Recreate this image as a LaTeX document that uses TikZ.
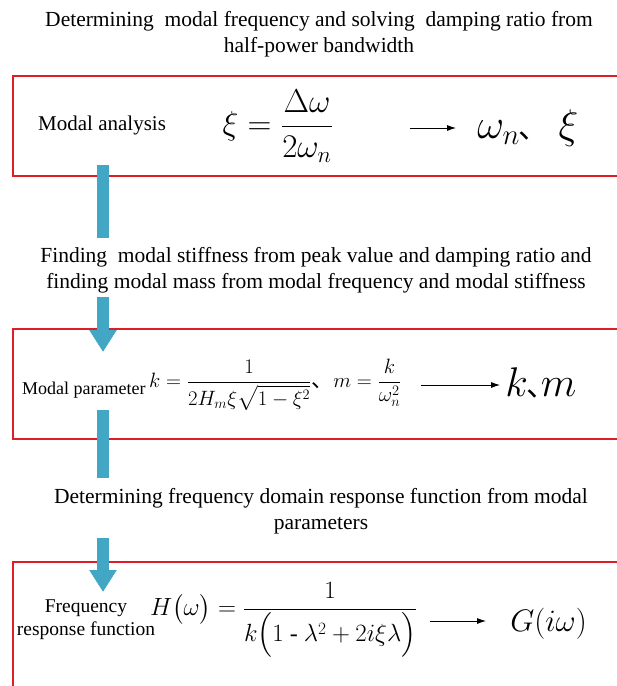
\documentclass[tikz,border=0pt]{standalone}
\usepackage{amsmath}
\usepackage{fontspec}
\setmainfont{Liberation Serif}
\newfontfamily\cjkf{Noto Sans CJK SC}
\usetikzlibrary{arrows.meta}
\definecolor{boxred}{RGB}{222,30,38}
\definecolor{flowteal}{RGB}{66,167,196}
\newcommand{\dunhao}[1]{{\cjkf\fontsize{#1}{#1}\selectfont 、}}
\tikzset{
 redbox/.style={draw=boxred, line width=1.8pt, inner sep=0pt, anchor=north west},
 flowbar/.style={draw=flowteal, line width=12pt},
 flowarrow/.style={draw=flowteal, line width=12pt, -{Triangle[width=26pt,length=22pt]}},
 titletext/.style={font=\fontsize{21.5}{26}\selectfont, align=center, inner sep=0pt},
 outarrow/.style={-{Latex[length=9pt,width=6pt]}, line width=0.8pt},
}
\begin{document}
\begin{tikzpicture}[x=1pt,y=-1pt]
\useasboundingbox (0,0) rectangle (617,686);
\fill[white] (0,0) rectangle (617,686);

% boxes
\node[redbox, minimum width=620pt, minimum height=100pt] (box1) at (12,75) {};
\node[redbox, minimum width=620pt, minimum height=110pt] (box2) at (12,328) {};
\node[redbox, minimum width=620pt, minimum height=150pt] (box3) at (12,561) {};

% titles
\node[titletext] (t1) at (319,34) {Determining\ \ modal frequency and solving\ \ damping ratio from\\half-power bandwidth};
\node[titletext] (t2) at (316,270) {Finding\ \ modal stiffness from peak value and damping ratio and\\finding modal mass from modal frequency and modal stiffness};
\node[titletext] (t3) at (321,511) {Determining frequency domain response function from modal\\parameters};

% box 1 content
\node[font=\fontsize{21}{24}\selectfont, inner sep=0pt, anchor=west] (ma) at (38,125) {Modal analysis};
\node[font=\fontsize{24}{28}\selectfont, inner sep=0pt, scale=1.33] (f1) at (278,126) {$\displaystyle \xi=\frac{\Delta\omega}{2\omega_n}$};
\node[font=\fontsize{22}{24}\selectfont, inner sep=0pt, scale=2, anchor=west] (r1) at (477,128) {$\omega_n$\hspace{-1pt}\dunhao{15}\hspace{5pt}$\xi$};
\coordinate (o1s) at (410,128);
\coordinate (o1e) at (456,128);
\draw[outarrow] (o1s) -- (o1e);

% box 2 content
\node[font=\fontsize{18}{22}\selectfont, inner sep=0pt, anchor=west] (mp) at (22,390) {Modal parameter};
\node[font=\fontsize{22}{26}\selectfont, inner sep=0pt, anchor=west] (f2) at (149,385) {$k=\dfrac{1}{2H_m\xi\sqrt{1-\xi^2}}$\dunhao{22}$m=\dfrac{k}{\omega_n^2}$};
\node[font=\fontsize{21}{22}\selectfont, inner sep=0pt, scale=2, anchor=west] (r2) at (505,383) {$k$\hspace{-0.5pt}\dunhao{15}\hspace{-8pt}$m$};
\coordinate (o2s) at (421,385);
\coordinate (o2e) at (500,385);
\draw[outarrow] (o2s) -- (o2e);

% box 3 content
\node[font=\fontsize{19.5}{23}\selectfont, inner sep=0pt, align=center] (fr) at (86,620) {Frequency\\response function};
\node[font=\fontsize{24}{30}\selectfont, inner sep=0pt, anchor=west] (f3) at (150,620) {$H\bigl(\omega\bigr)=\dfrac{1}{k\Bigl(1\text{ - }\lambda^2+2i\xi\lambda\Bigr)}$};
\node[font=\fontsize{20}{22}\selectfont, inner sep=0pt, scale=1.5, anchor=west] (r3) at (510,624) {$G(i\omega)$};
\coordinate (o3s) at (430,621);
\coordinate (o3e) at (486,621);
\draw[outarrow] (o3s) -- (o3e);

% flow arrows
\coordinate (a1s) at (103,165);
\coordinate (a1e) at (103,238);
\coordinate (a2s) at (103,297);
\coordinate (a2e) at (103,352);
\coordinate (a3s) at (103,410);
\coordinate (a3e) at (103,478);
\coordinate (a4s) at (103,538);
\coordinate (a4e) at (103,592);
\draw[flowbar] (a1s) -- (a1e);
\draw[flowarrow] (a2s) -- (a2e);
\draw[flowbar] (a3s) -- (a3e);
\draw[flowarrow] (a4s) -- (a4e);
\end{tikzpicture}
\end{document}
